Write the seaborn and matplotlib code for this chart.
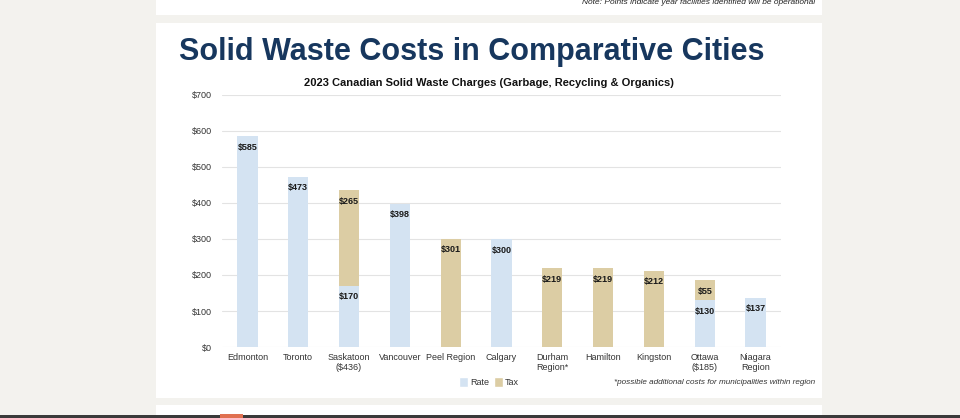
import matplotlib
matplotlib.use("Agg")
import matplotlib.pyplot as plt
from matplotlib.patches import Rectangle, Patch
import seaborn as sns
import pandas as pd
import numpy as np

# ---- data ----
cities = ["Edmonton", "Toronto", "Saskatoon\n($436)", "Vancouver", "Peel Region",
          "Calgary", "Durham\nRegion*", "Hamilton", "Kingston", "Ottawa\n($185)",
          "Niagara\nRegion"]
rate = [585, 473, 170, 398, 0, 300, 0, 0, 0, 130, 137]
tax = [0, 0, 265, 0, 301, 0, 219, 219, 212, 55, 0]
yticks = [0, 100, 200, 300, 400, 500, 600, 700]
ytick_labels = ["$0", "$100", "$200", "$300", "$400", "$500", "$600", "$700"]

RATE_C = "#d4e3f2"
TAX_C = "#dccda4"
BG = "#f3f2ee"
NAVY = "#17375e"

sns.set_theme(style="white")
plt.rcParams["font.family"] = ["Liberation Sans", "DejaVu Sans"]

df = pd.DataFrame({"city": cities, "rate": rate, "tax": tax})
df["total"] = df["rate"] + df["tax"]

fig = plt.figure(figsize=(9.6, 4.18), dpi=100)
fig.patch.set_facecolor(BG)

W, H = 960, 418
def px_rect(x0, y0, x1, y1, color):
    fig.patches.append(Rectangle((x0 / W, 1 - y1 / H), (x1 - x0) / W, (y1 - y0) / H,
                                 transform=fig.transFigure, facecolor=color,
                                 edgecolor="none", zorder=-5))

# slide panels
px_rect(156, -5, 822, 15, "white")
px_rect(156, 23, 822, 398, "white")
px_rect(156, 405, 822, 420, "white")
px_rect(0, 415, 960, 420, "#3a3a3a")
px_rect(220, 414, 243, 418, "#e07050")

ax = fig.add_axes([222 / W, 1 - 347 / H, 559 / W, 252 / H])
ax.set_facecolor("none")
ax.set_zorder(1)

sns.barplot(data=df, x="city", y="total", color=TAX_C, width=0.4, ax=ax,
            saturation=1, linewidth=0, edgecolor="none", zorder=2)
sns.barplot(data=df, x="city", y="rate", color=RATE_C, width=0.4, ax=ax,
            saturation=1, linewidth=0, edgecolor="none", zorder=3)

ax.set_ylim(0, 700)
ax.set_xlim(-0.5, len(cities) - 0.5)
ax.set_yticks(yticks)
ax.set_yticklabels(ytick_labels)
ax.set_xlabel("")
ax.set_ylabel("")
ax.grid(axis="y", color="#e3e3e3", linewidth=0.8, zorder=0)
ax.set_axisbelow(True)
for s in ax.spines.values():
    s.set_visible(False)
ax.tick_params(axis="both", length=0, labelsize=6.5, labelcolor="#333333")
ax.tick_params(axis="y", pad=7)
ax.tick_params(axis="x", pad=4)

for i, (r, t) in enumerate(zip(rate, tax)):
    if r > 0:
        ax.annotate(f"${r}", (i, r), xytext=(0, -8), textcoords="offset points",
                    ha="center", va="center", fontsize=6.5, fontweight="bold",
                    color="#1a1a1a", zorder=5)
    if t > 0:
        ax.annotate(f"${t}", (i, r + t), xytext=(0, -8), textcoords="offset points",
                    ha="center", va="center", fontsize=6.5, fontweight="bold",
                    color="#1a1a1a", zorder=5)

# titles
fig.text(179 / W, 1 - 52 / H, "Solid Waste Costs in Comparative Cities",
         fontsize=22, fontweight="bold", color=NAVY, ha="left", va="center")
fig.text(489 / W, 1 - 83 / H,
         "2023 Canadian Solid Waste Charges (Garbage, Recycling & Organics)",
         fontsize=8, fontweight="bold", color="#111111", ha="center", va="center")
fig.text(815 / W, 1 - 3 / H,
         "Note: Points indicate year facilities identified will be operational",
         fontsize=6, style="italic", color="#222222", ha="right", va="center")
fig.text(815 / W, 1 - 382 / H,
         "*possible additional costs for municipalities within region",
         fontsize=5.9, style="italic", color="#333333", ha="right", va="center")

handles = [Patch(facecolor=RATE_C, label="Rate"), Patch(facecolor=TAX_C, label="Tax")]
fig.legend(handles=handles, loc="center", bbox_to_anchor=(489 / W, 1 - 382 / H),
           ncol=2, frameon=False, fontsize=6.5, handlelength=1.0, handleheight=1.3,
           handletextpad=0.2, columnspacing=0.5, labelcolor="#333333")

fig.savefig("out.png", dpi=100, facecolor=fig.get_facecolor())
